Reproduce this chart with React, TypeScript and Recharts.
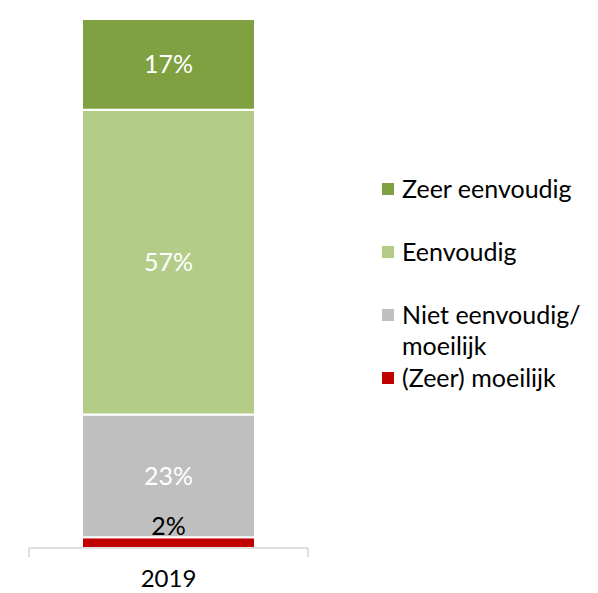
import React from 'react';
import { BarChart, Bar, XAxis, YAxis, Legend, LabelList } from 'recharts';

const categories = ['2019'];
const seriesNames = ['(Zeer) moeilijk', 'Niet eenvoudig/ moeilijk', 'Eenvoudig', 'Zeer eenvoudig'];
const seriesKeys = ['zeerMoeilijk', 'nietEenvoudig', 'eenvoudig', 'zeerEenvoudig'];
const zeerMoeilijk = [2];
const nietEenvoudig = [23];
const eenvoudig = [57];
const zeerEenvoudig = [17];
const seriesColors = ['#C00000', '#BFBFBF', '#B3CD89', '#7FA141'];
const labelColors = ['#000000', '#ffffff', '#ffffff', '#ffffff'];

const seriesValues = [zeerMoeilijk, nietEenvoudig, eenvoudig, zeerEenvoudig];

const data = categories.map((c, i) => {
  const row: Record<string, any> = { year: c };
  seriesKeys.forEach((k, j) => {
    row[k] = seriesValues[j][i];
  });
  return row;
});

const FONT = 'Lato, "Liberation Sans", sans-serif';
const LEGEND_W = 216;

const AxisTick = (props: any) => {
  const { x, y, payload } = props;
  const off = payload && payload.offset != null ? payload.offset : 0;
  return (
    <g>
      <line x1={x - off} y1={y} x2={x - off} y2={y + 9} stroke="#BFBFBF" strokeWidth={1} />
      <line x1={x + off} y1={y} x2={x + off} y2={y + 9} stroke="#BFBFBF" strokeWidth={1} />
      <text x={x} y={y + 39} textAnchor="middle" fill="#000" fontSize={24} fontFamily={FONT}>
        {payload.value}
      </text>
    </g>
  );
};

const LegendContent = () => {
  const order = seriesNames.map((n, j) => ({ name: n, color: seriesColors[j] })).reverse();
  return (
    <div style={{ fontFamily: FONT, fontSize: 25, color: '#000' }}>
      {order.map((p) => (
        <div key={p.name} style={{ display: 'flex', alignItems: 'flex-start', height: 63 }}>
          <div style={{ width: 12, height: 12, background: p.color, marginTop: 10, marginRight: 8, flexShrink: 0 }} />
          <div style={{ width: 185, lineHeight: '31px' }}>{p.name}</div>
        </div>
      ))}
    </div>
  );
};

export default function App() {
  return (
    <div style={{ position: 'absolute', left: 0, top: 0, width: 598, height: 593, background: '#fff' }}>
      <BarChart
        width={598}
        height={593}
        data={data}
        margin={{ top: 19, right: 290 - LEGEND_W, left: 29, bottom: 0 }}
        barCategoryGap="19%"
      >
        <YAxis hide domain={[0, 99]} />
        <XAxis
          dataKey="year"
          height={45}
          axisLine={{ stroke: '#BFBFBF', strokeWidth: 1 }}
          tickLine={false}
          tickSize={0}
          tickMargin={0}
          tick={<AxisTick />}
          interval={0}
        />
        <Legend
          layout="vertical"
          align="right"
          verticalAlign="top"
          content={<LegendContent />}
          wrapperStyle={{ left: 382, top: 173, width: LEGEND_W }}
        />
        {seriesKeys.map((k, j) => (
          <Bar
            key={k}
            dataKey={k}
            name={seriesNames[j]}
            stackId="a"
            fill={seriesColors[j]}
            stroke="#ffffff"
            strokeWidth={2}
            isAnimationActive={false}
          >
            <LabelList
              dataKey={k}
              position={j === 0 ? 'top' : 'center'}
              offset={2}
              formatter={(v: any) => `${v}%`}
              fill={labelColors[j]}
              fontSize={25}
              fontFamily={FONT}
            />
          </Bar>
        ))}
      </BarChart>
    </div>
  );
}
